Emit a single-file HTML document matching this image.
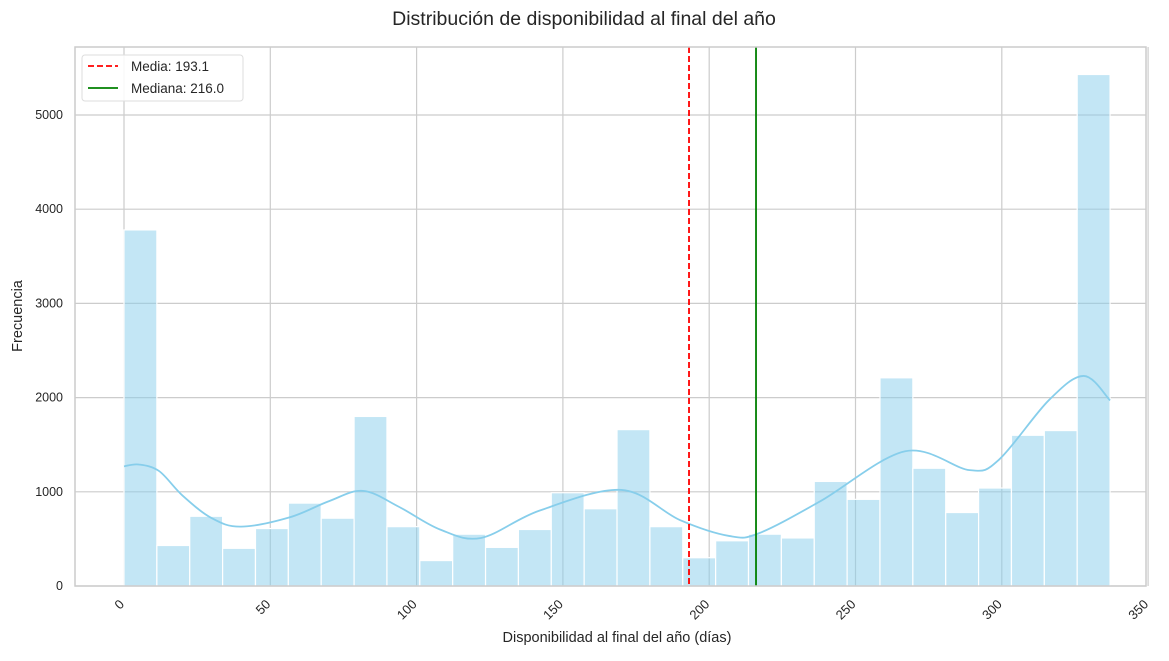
<!DOCTYPE html>
<html><head><meta charset="utf-8"><style>
body{margin:0;background:#fff;font-family:"Liberation Sans",sans-serif}
svg text{font-family:"Liberation Sans",sans-serif;fill:#262626}
</style></head><body>
<svg id="c" width="1169" height="656"></svg>
<script>
const counts=[3780,430,740,400,610,880,720,1800,630,270,550,410,600,990,820,1660,630,300,480,550,510,1110,920,2210,1250,780,1040,1600,1650,5430];
const binStart=0, binEnd=337;
const kdeX=[0,5,12,20,30,40,56.7,70,81.7,94,108,122,142,170,190,207,217,238,267,289,299,316,328,337];
const kdeY=[1270,1290,1220,960,720,630,730,900,1010,840,600,510,800,1020,700,530,560,900,1430,1230,1340,1970,2230,1970];
const xTicks=[0,50,100,150,200,250,300,350];
const yTicks=[0,1000,2000,3000,4000,5000];
const meanVal=193.1, medianVal=216.0;
const L=75,R=1146,T=47,B=586;
const xs=d=>124+d*2.926, ys=v=>586-v*0.0942;
const svg=document.getElementById('c');const NS='http://www.w3.org/2000/svg';
function mk(t,a,p){const e=document.createElementNS(NS,t);for(const k in a)e.setAttribute(k,a[k]);(p||svg).appendChild(e);return e;}
let e;
e=mk('text',{x:584,y:25,'text-anchor':'middle','font-size':19.5});e.textContent='Distribución de disponibilidad al final del año';


xTicks.forEach(t=>{const x=xs(t);
e=mk('line',{x1:x,x2:x,y1:T,y2:B,stroke:'#cccccc','stroke-width':1.2});


e=mk('text',{x:0,y:0,'font-size':13,'text-anchor':'end',transform:`translate(${x+1},${B+19}) rotate(-45)`});e.textContent=t;

});
yTicks.forEach(t=>{const y=ys(t);
e=mk('line',{x1:L,x2:R,y1:y,y2:y,stroke:'#cccccc','stroke-width':1.2});


e=mk('text',{x:L-12,y:y+4,'font-size':12.5,'text-anchor':'end'});e.textContent=t;

});
const bw=(binEnd-binStart)/counts.length;
counts.forEach((c,i)=>{const x0=xs(binStart+i*bw),x1=xs(binStart+(i+1)*bw);
e=mk('rect',{x:x0,y:ys(c),width:x1-x0,height:B-ys(c),fill:'rgba(135,206,235,0.5)',stroke:'#fff','stroke-width':1.2});

});
const P=kdeX.map((d,i)=>[xs(d),ys(kdeY[i])]);
let dstr=`M${P[0][0]},${P[0][1]}`;
for(let i=0;i<P.length-1;i++){const p0=P[i-1]||P[i],p1=P[i],p2=P[i+1],p3=P[i+2]||p2;
dstr+=` C${p1[0]+(p2[0]-p0[0])/6},${p1[1]+(p2[1]-p0[1])/6} ${p2[0]-(p3[0]-p1[0])/6},${p2[1]-(p3[1]-p1[1])/6} ${p2[0]},${p2[1]}`;}
e=mk('path',{d:dstr,fill:'none',stroke:'#87ceeb','stroke-width':1.8});


e=mk('line',{x1:xs(meanVal),x2:xs(meanVal),y1:T,y2:B,stroke:'red','stroke-width':1.8,'stroke-dasharray':'6,3'});


e=mk('line',{x1:xs(medianVal),x2:xs(medianVal),y1:T,y2:B,stroke:'green','stroke-width':1.8});


e=mk('rect',{x:L,y:T,width:R-L,height:B-T,fill:'none',stroke:'#cccccc','stroke-width':1.5});


e=mk('text',{x:617,y:642,'text-anchor':'middle','font-size':14.5});e.textContent='Disponibilidad al final del año (días)';


e=mk('text',{x:0,y:0,'text-anchor':'middle','font-size':14.5,transform:'translate(22,316) rotate(-90)'});e.textContent='Frecuencia';


const g=mk('g',{});


mk('rect',{x:82,y:55,width:161,height:46,rx:3,fill:'rgba(255,255,255,0.85)',stroke:'#dddddd'},g);
mk('line',{x1:88,x2:118,y1:66,y2:66,stroke:'red','stroke-width':1.8,'stroke-dasharray':'6,3'},g);
mk('line',{x1:88,x2:118,y1:88,y2:88,stroke:'green','stroke-width':1.8},g);
e=mk('text',{x:131,y:71,'font-size':13.5},g);e.textContent='Media: '+meanVal.toFixed(1);


e=mk('text',{x:131,y:93,'font-size':13.5},g);e.textContent='Mediana: '+medianVal.toFixed(1);


</script></body></html>
